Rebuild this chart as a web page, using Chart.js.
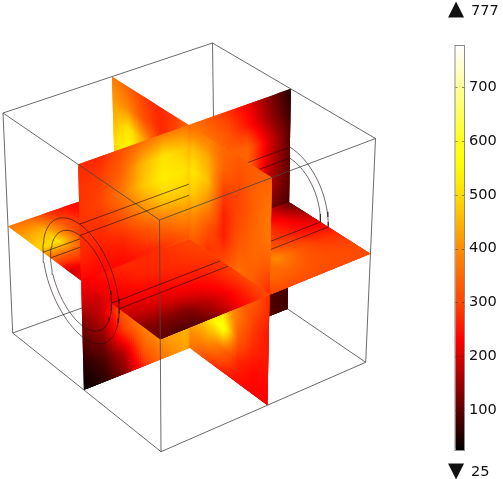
<!DOCTYPE html>
<html>
<head>
<meta charset="utf-8">
<script src="https://cdn.jsdelivr.net/npm/chart.js@4/dist/chart.umd.min.js"></script>
<style>
  html, body { margin: 0; background: #fff; }
  #stage { position: relative; width: 503px; height: 479px; overflow: hidden; font-family: "DejaVu Sans", sans-serif; color: #111; }
  canvas { position: absolute; top: 0; }
  #view { left: 0; }
  #bar { left: 430px; }
  .lbl { position: absolute; font-size: 14.6px; line-height: 16px; white-space: nowrap; }
  .tri { position: absolute; font-size: 21px; line-height: 20px; white-space: nowrap; }
</style>
</head>
<body>
<div id="stage">
  <canvas id="view" width="503" height="479"></canvas>
  <canvas id="bar" width="73" height="479"></canvas>
  <div class="tri" style="left:448px;top:-2px">▲</div>
  <div class="lbl" style="left:471px;top:2px">777</div>
  <div class="tri" style="left:448px;top:460px">▼</div>
  <div class="lbl" style="left:471px;top:463px">25</div>
</div>
<script>
// temperature, rows/columns follow the picture
const sliceX = [
    [270,270,310,360,380,370,330,280,220,130,55],
    [280,290,340,450,510,470,370,320,250,150,70],
    [280,300,370,470,530,510,400,340,340,200,90],
    [280,280,320,400,470,480,400,340,340,190,100],
    [270,260,270,310,360,400,360,320,300,170,100],
    [240,240,240,260,280,320,300,300,280,130,90],
    [200,200,260,300,320,330,250,200,150,90,60],
    [130,190,340,400,420,400,300,220,130,90,80],
    [90,140,300,400,450,430,300,180,120,90,80],
    [50,90,180,350,420,450,350,220,120,90,80],
    [30,60,130,280,380,430,300,200,120,90,80]
];
const sliceY = [
    [380,340,290,270,290,360,380,350,330,330,340],
    [420,390,310,270,300,470,440,340,310,340,360],
    [450,520,420,300,350,520,460,290,300,340,380],
    [500,560,450,350,350,480,400,260,310,350,370],
    [450,450,400,350,330,400,320,260,330,350,320],
    [380,380,350,320,320,340,280,300,360,330,270],
    [320,320,320,320,320,320,350,380,350,320,270],
    [330,330,330,330,330,360,400,450,370,290,250],
    [370,370,370,370,370,450,520,590,330,270,250],
    [370,370,370,370,370,420,420,350,270,240,240],
    [350,350,350,350,350,360,290,260,240,230,230]
];
const sliceZ = [
    [370,350,270,240,260,260,260,260,260,260,260],
    [430,450,320,250,260,260,260,260,260,260,260],
    [490,510,300,260,260,260,260,260,260,260,260],
    [330,320,300,270,260,260,260,260,260,260,260],
    [190,240,260,270,270,270,270,270,260,260,130],
    [220,250,270,270,280,300,300,280,250,190,110],
    [215,240,260,270,280,290,300,300,280,230,170],
    [210,225,235,250,260,280,300,320,290,250,230],
    [180,190,200,215,240,290,340,400,330,290,280],
    [130,130,130,170,225,290,350,340,320,310,300],
    [110,90,100,160,240,300,310,310,310,310,310]
];
const colorTicks = [100,200,300,400,500,600,700];
const colorMin = 25, colorMax = 777;

// colour table of the bar
const heat = [
    [25,0,0,0],[230,255,0,0],[300,255,70,0],[400,255,140,0],[500,255,222,0],
    [560,255,255,0],[600,255,255,25],[700,255,255,150],[777,255,255,255]
];
function heatColor(v) {
    let i = 0;
    while (i < heat.length - 2 && v > heat[i + 1][0]) i++;
    const a = heat[i], b = heat[i + 1];
    const t = Math.min(1, Math.max(0, (v - a[0]) / (b[0] - a[0])));
    const c = [1, 2, 3].map(k => Math.round(a[k] + (b[k] - a[k]) * t));
    return `rgb(${c[0]},${c[1]},${c[2]})`;
}

// view of the unit cube: screen place of each corner, index = u + 2v + 4w
const view = [
    [212.5,43],[375.5,138.5],[3,113],[159.5,220],
    [215.4,259.6],[365.7,362.3],[12.7,333],[161,451.7]
];
function project(u, v, w) {
    const a = (u + 1) / 2, b = (v + 1) / 2, c = (w + 1) / 2;
    let x = 0, y = 0;
    view.forEach((p, i) => {
        const k = (i & 1 ? a : 1 - a) * (i & 2 ? b : 1 - b) * (i & 4 ? c : 1 - c);
        x += k * p[0];
        y += k * p[1];
    });
    return { x, y };
}

const u0 = -0.04, v0 = -0.04, w0 = 0.03;
const radii = [0.5, 0.4];

const slices = [
    { grid: sliceX, at: (a, b) => [u0, 1 - 2 * b, -1 + 2 * a], a0: (w0 + 1) / 2, b0: (1 - v0) / 2, nearA: 0, nearB: 0 },
    { grid: sliceY, at: (a, b) => [-1 + 2 * b, v0, -1 + 2 * a], a0: (w0 + 1) / 2, b0: (u0 + 1) / 2, nearA: 0, nearB: 1 },
    { grid: sliceZ, at: (a, b) => [-1 + 2 * a, 1 - 2 * b, w0], a0: (u0 + 1) / 2, b0: (1 - v0) / 2, nearA: 1, nearB: 0 }
];

function sample(grid, a, b) {
    const n = grid.length - 1;
    const r = Math.min(n - 1, Math.floor(a * n)), c = Math.min(n - 1, Math.floor(b * n));
    const s = a * n - r, t = b * n - c;
    return (grid[r][c] * (1 - t) + grid[r][c + 1] * t) * (1 - s) + (grid[r + 1][c] * (1 - t) + grid[r + 1][c + 1] * t) * s;
}

function paintLayer(chart, layer) {
    const ctx = chart.ctx, sx = chart.scales.x, sy = chart.scales.y;
    const px = (m) => {
        const p = project(m[0], m[1], m[2]);
        return [sx.getPixelForValue(p.x), sy.getPixelForValue(p.y)];
    };
    const steps = 48;
    ctx.save();
    slices.forEach(s => {
        [0, 1].forEach(ha => [0, 1].forEach(hb => {
            if ((ha === s.nearA ? 1 : 0) + (hb === s.nearB ? 1 : 0) !== layer) return;
            const a1 = ha ? s.a0 : 0, a2 = ha ? 1 : s.a0;
            const b1 = hb ? s.b0 : 0, b2 = hb ? 1 : s.b0;
            // each cell reaches over the next one so no seams show
            const endA = Math.min(1, a2 + 0.003), endB = Math.min(1, b2 + 0.003);
            for (let i = 0; i < steps; i++) {
                for (let j = 0; j < steps; j++) {
                    const aa = a1 + (a2 - a1) * i / steps, ab = a1 + (a2 - a1) * (i + 1) / steps;
                    const ba = b1 + (b2 - b1) * j / steps, bb = b1 + (b2 - b1) * (j + 1) / steps;
                    const ac = Math.min(endA, ab + (a2 - a1) / steps), bc = Math.min(endB, bb + (b2 - b1) / steps);
                    const q = [px(s.at(aa, ba)), px(s.at(aa, bc)), px(s.at(ac, bc)), px(s.at(ac, ba))];
                    ctx.beginPath();
                    ctx.moveTo(q[0][0], q[0][1]);
                    for (let k = 1; k < 4; k++) ctx.lineTo(q[k][0], q[k][1]);
                    ctx.closePath();
                    ctx.fillStyle = heatColor(sample(s.grid, (aa + ab) / 2, (ba + bb) / 2));
                    ctx.fill();
                }
            }
        }));
    });
    ctx.restore();
}

const slicePainter = {
    id: 'slicePainter',
    afterDatasetDraw(chart, args) {
        const layer = chart.data.datasets[args.index].paintLayer;
        if (layer !== undefined) paintLayer(chart, layer);
    }
};

const edgeColor = 'rgba(70,70,70,0.8)';
const wireColor = 'rgba(30,15,15,0.62)';
function wire(points, order, color) {
    return { data: points.map(m => project(m[0], m[1], m[2])), showLine: true, pointRadius: 0, borderWidth: 1, borderColor: color, order };
}
function ring(v, r, order) {
    const pts = [];
    for (let i = 0; i <= 72; i++) {
        const th = i / 72 * Math.PI * 2;
        pts.push([u0 + r * Math.cos(th), v, w0 + r * Math.sin(th)]);
    }
    return wire(pts, order, wireColor);
}

const datasets = [
    // hidden behind the slices
    wire([[-1,-1,-1],[-1,-1,1]], 9, edgeColor),
    wire([[-1,-1,1],[-1,1,1]], 9, edgeColor),
    wire([[-1,-1,1],[1,-1,1]], 9, edgeColor),
    ...radii.map(r => ring(-1, r, 9)),
    { data: [], paintLayer: 0, order: 8 },
    { data: [], paintLayer: 1, order: 7 },
    // on the slices in the middle layer
    ...radii.map(r => wire([[u0,v0,w0 - r],[u0,-1,w0 - r]], 6, wireColor)),
    ...radii.map(r => wire([[u0 + r,v0,w0],[u0 + r,-1,w0]], 6, wireColor)),
    ...radii.map(r => wire([[u0 - r,1,w0],[u0 - r,v0,w0]], 6, wireColor)),
    { data: [], paintLayer: 2, order: 5 },
    // in front
    ...radii.map(r => wire([[u0,1,w0 - r],[u0,v0,w0 - r]], 1, wireColor)),
    ...radii.map(r => wire([[u0 + r,1,w0],[u0 + r,v0,w0]], 1, wireColor)),
    ...radii.map(r => ring(1, r, 1)),
    wire([[-1,-1,-1],[1,-1,-1]], 1, edgeColor),
    wire([[-1,-1,-1],[-1,1,-1]], 1, edgeColor),
    wire([[1,-1,-1],[1,1,-1]], 1, edgeColor),
    wire([[-1,1,-1],[1,1,-1]], 1, edgeColor),
    wire([[-1,1,-1],[-1,1,1]], 1, edgeColor),
    wire([[1,-1,-1],[1,-1,1]], 1, edgeColor),
    wire([[1,1,-1],[1,1,1]], 1, edgeColor),
    wire([[-1,1,1],[1,1,1]], 1, edgeColor),
    wire([[1,-1,1],[1,1,1]], 1, edgeColor)
];

new Chart(document.getElementById('view'), {
    type: 'scatter',
    data: { datasets },
    options: {
        responsive: false,
        animation: false,
        events: [],
        layout: { padding: 0 },
        plugins: { legend: { display: false }, tooltip: { enabled: false } },
        scales: {
            x: { type: 'linear', min: 0, max: 503, display: false },
            y: { type: 'linear', min: 0, max: 479, reverse: true, display: false }
        }
    },
    plugins: [slicePainter]
});

// colour bar: one floating bar per colour step, each reaching a little into the next
const barSteps = 188;
const barSets = [];
for (let i = barSteps - 1; i >= 0; i--) {
    const lo = colorMin + (colorMax - colorMin) * i / barSteps;
    const hi = colorMin + (colorMax - colorMin) * (i + 1) / barSteps;
    barSets.push({
        data: [[lo, Math.min(colorMax, hi + 3)]],
        backgroundColor: heatColor((lo + hi) / 2),
        borderWidth: 0,
        grouped: false,
        barPercentage: 1,
        categoryPercentage: 1
    });
}
const barFrame = {
    id: 'barFrame',
    afterDraw(chart) {
        const a = chart.chartArea, ctx = chart.ctx;
        ctx.save();
        ctx.strokeStyle = '#8c8c8c';
        ctx.lineWidth = 1;
        ctx.strokeRect(a.left - 0.5, a.top - 0.5, a.right - a.left + 1, a.bottom - a.top + 1);
        ctx.strokeStyle = 'rgba(60,40,0,0.55)';
        colorTicks.forEach(t => {
            const y = Math.round(chart.scales.y.getPixelForValue(t)) + 0.5;
            ctx.beginPath();
            ctx.moveTo(a.left, y); ctx.lineTo(a.left + 2, y);
            ctx.moveTo(a.right - 2, y); ctx.lineTo(a.right, y);
            ctx.stroke();
        });
        ctx.restore();
    }
};
new Chart(document.getElementById('bar'), {
    type: 'bar',
    data: { labels: [''], datasets: barSets },
    options: {
        responsive: false,
        animation: false,
        events: [],
        layout: { padding: { left: 25.5, top: 46, bottom: 29 } },
        plugins: { legend: { display: false }, tooltip: { enabled: false } },
        scales: {
            x: { display: false },
            y: {
                position: 'right',
                min: colorMin,
                max: colorMax,
                afterBuildTicks: (s) => { s.ticks = colorTicks.map(value => ({ value })); },
                afterFit: (s) => { s.width = 39; },
                grid: { display: false, drawTicks: false },
                border: { display: false },
                ticks: { color: '#111', font: { family: 'DejaVu Sans', size: 14.6 }, padding: 5 }
            }
        }
    },
    plugins: [barFrame]
});
</script>
</body>
</html>
